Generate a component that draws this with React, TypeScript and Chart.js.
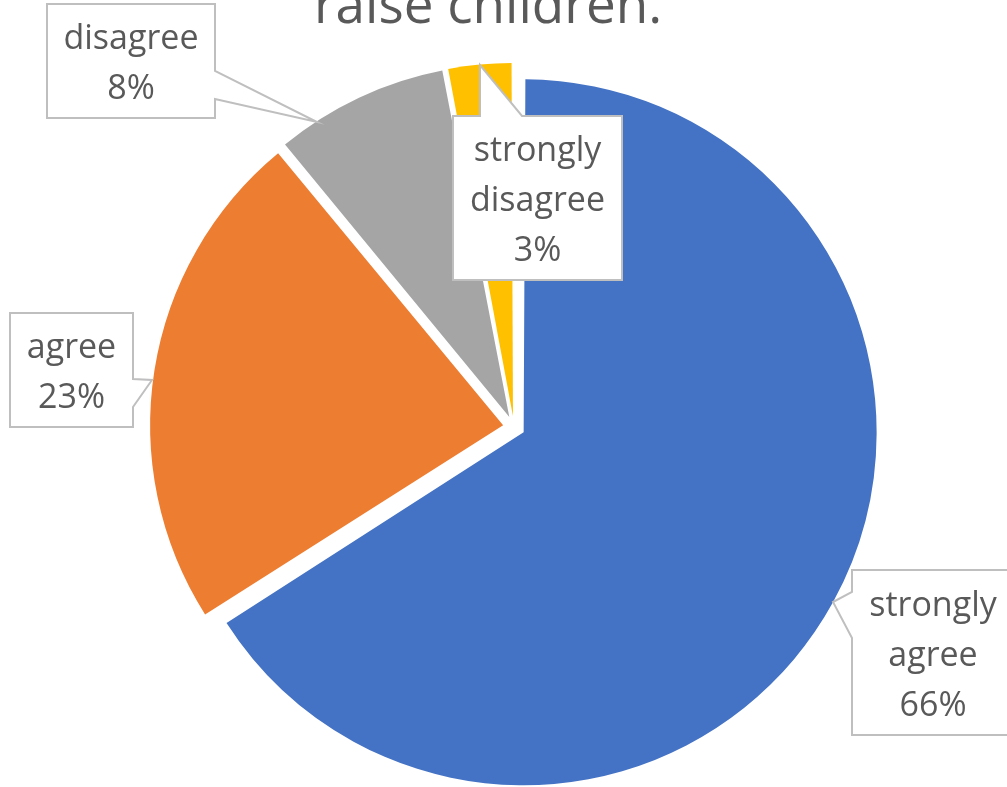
import React, { useEffect, useRef } from "react";
import { Chart, registerables } from "chart.js";

Chart.register(...registerables);

// ---- data ----
const categories = ["strongly agree", "agree", "disagree", "strongly disagree"];
const percentages = [66, 23, 8, 3];
const sliceColors = ["#4472C4", "#ED7D31", "#A5A5A5", "#FFC000"];
const titleText = "raise children.";

// ---- layout / style ----
const W = 1007;
const H = 787;
const PIE_RADIUS = 353;
const SLICE_OFFSET = 44; // Chart.js translates by offset/4
const TEXT_COLOR = "#595959";
const LABEL_FONT = '34px "Open Sans"';
const TITLE_FONT = '53px "Open Sans"';
const LINE_STEP = 50;

type Callout = {
  box: [number, number, number, number];
  side: "left" | "right" | "top";
  a: number;
  b: number;
  tip: [number, number];
};

// positions relative to the pie centre
const callouts: Callout[] = [
  { box: [338, 143, 162, 165], side: "left", a: 22, b: 68, tip: [319, 175] },
  { box: [-504, -114, 123, 114], side: "right", a: 66, b: 94, tip: [-362, -47] },
  { box: [-467, -423, 168, 114], side: "right", a: 67, b: 95, tip: [-197, -305] },
  { box: [-61, -311, 169, 164], side: "top", a: 27, b: 69, tip: [-34, -362] },
];

function labelLinesFor(i: number): string[] {
  return [...categories[i].split(" "), `${percentages[i]}%`];
}

const radiusFixPlugin = {
  id: "radiusFix",
  afterDatasetUpdate(chart: any, args: any) {
    const meta = args.meta;
    meta.data.forEach((el: any) => {
      const off = SLICE_OFFSET / 4;
      const fix = 1 - Math.sin(Math.min(Math.PI, el.circumference || 0));
      el.outerRadius = PIE_RADIUS - off * fix;
    });
  },
};

const calloutPlugin = {
  id: "callouts",
  afterDraw(chart: any) {
    const ctx = chart.ctx as CanvasRenderingContext2D;
    const meta = chart.getDatasetMeta(0);
    const cx = meta.data[0].x;
    const cy = meta.data[0].y;

    // title
    ctx.save();
    ctx.font = TITLE_FONT;
    ctx.fillStyle = TEXT_COLOR;
    ctx.textAlign = "center";
    ctx.textBaseline = "alphabetic";
    ctx.fillText(titleText, cx - 26, 23);
    ctx.restore();

    callouts.forEach((c, i) => {
      const x0 = cx + c.box[0];
      const y0 = cy + c.box[1];
      const x1 = x0 + c.box[2];
      const y1 = y0 + c.box[3];
      const tx = cx + c.tip[0];
      const ty = cy + c.tip[1];
      ctx.save();
      ctx.beginPath();
      if (c.side === "left") {
        ctx.moveTo(x0, y0);
        ctx.lineTo(x1, y0);
        ctx.lineTo(x1, y1);
        ctx.lineTo(x0, y1);
        ctx.lineTo(x0, y0 + c.b);
        ctx.lineTo(tx, ty);
        ctx.lineTo(x0, y0 + c.a);
      } else if (c.side === "right") {
        ctx.moveTo(x0, y0);
        ctx.lineTo(x1, y0);
        ctx.lineTo(x1, y0 + c.a);
        ctx.lineTo(tx, ty);
        ctx.lineTo(x1, y0 + c.b);
        ctx.lineTo(x1, y1);
        ctx.lineTo(x0, y1);
      } else {
        ctx.moveTo(x0, y0);
        ctx.lineTo(x0 + c.a, y0);
        ctx.lineTo(tx, ty);
        ctx.lineTo(x0 + c.b, y0);
        ctx.lineTo(x1, y0);
        ctx.lineTo(x1, y1);
        ctx.lineTo(x0, y1);
      }
      ctx.closePath();
      ctx.fillStyle = "#FFFFFF";
      ctx.fill();
      ctx.strokeStyle = "#BFBFBF";
      ctx.lineWidth = 2;
      ctx.lineJoin = "miter";
      ctx.stroke();

      const lines = labelLinesFor(i);
      ctx.font = LABEL_FONT;
      ctx.fillStyle = TEXT_COLOR;
      ctx.textAlign = "center";
      ctx.textBaseline = "alphabetic";
      const mx = (x0 + x1) / 2;
      const base0 = (y0 + y1) / 2 - ((lines.length - 1) * LINE_STEP) / 2 + 13;
      lines.forEach((ln, k) => ctx.fillText(ln, mx, base0 + k * LINE_STEP));
      ctx.restore();
    });
  },
};

export default function App() {
  const ref = useRef<HTMLCanvasElement | null>(null);
  useEffect(() => {
    if (!ref.current) return;
    const chart = new Chart(ref.current, {
      type: "pie",
      data: {
        labels: categories,
        datasets: [
          {
            data: percentages,
            backgroundColor: sliceColors,
            borderWidth: 0,
            offset: SLICE_OFFSET,
            hoverOffset: SLICE_OFFSET,
          },
        ],
      },
      options: {
        responsive: false,
        animation: false,
        radius: PIE_RADIUS,
        layout: { padding: { left: 21, right: 0, top: 67, bottom: 0 } },
        plugins: {
          legend: { display: false },
          title: { display: false },
          tooltip: { enabled: false },
        },
      } as any,
      plugins: [radiusFixPlugin, calloutPlugin],
    });
    return () => chart.destroy();
  }, []);
  return (
    <div style={{ position: "absolute", left: 0, top: 0, width: W, height: H, background: "#fff" }}>
      <canvas ref={ref} width={W} height={H} style={{ width: W, height: H, display: "block" }} />
    </div>
  );
}
